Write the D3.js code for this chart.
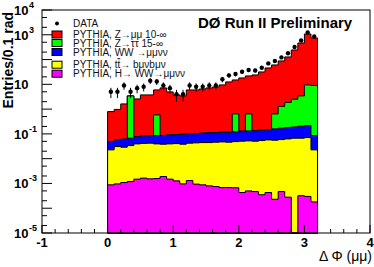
<!DOCTYPE html>
<html>
<head>
<meta charset="utf-8">
<script src="https://cdn.jsdelivr.net/npm/d3@7"></script>
<style>
  body { margin: 0; background: #fff; }
  svg { display: block; }
  text { font-family: "Liberation Sans", Arial, sans-serif; }
</style>
</head>
<body>
<div id="chart"></div>
<script>
// bin lower edges, 0.1 rad wide
const binLow = d3.range(32).map((i) => i / 10);

// stacked MC samples (entries / 0.1 rad), bottom to top
const higgs = [8.8e-4, 9.6e-4, 1.09e-3, 1.19e-3, 1.49e-3, 1.64e-3, 1.53e-3, 1.58e-3, 1.9e-3, 1.49e-3, 1.27e-3, 9.6e-4, 1.31e-3, 9.4e-4, 8.8e-4, 8.0e-4, 7.5e-4, 6.8e-4, 6.8e-4, 6.7e-4, 4.3e-4, 5.0e-4, 4.7e-4, 3.5e-4, 4.3e-4, 2.3e-4, 4.7e-4, 2.8e-4, 0, 3.2e-4, 3.0e-4, 1.8e-4];
const ttbar = [0.0218, 0.0298, 0.028, 0.0326, 0.038, 0.0398, 0.0407, 0.0379, 0.0365, 0.038, 0.0393, 0.0374, 0.0409, 0.0425, 0.0437, 0.0438, 0.0455, 0.0469, 0.0456, 0.0482, 0.0504, 0.0517, 0.0503, 0.0534, 0.0569, 0.0555, 0.0584, 0.0626, 0.0671, 0.0668, 0.0706, 0.0225];
const ww = [0.0263, 0.0265, 0.032, 0.0333, 0.0383, 0.0416, 0.0408, 0.0458, 0.0469, 0.0517, 0.0531, 0.0589, 0.0578, 0.0594, 0.0621, 0.0651, 0.0665, 0.0696, 0.0709, 0.0716, 0.0777, 0.0799, 0.085, 0.0873, 0.0877, 0.1033, 0.1111, 0.1166, 0.1243, 0.1369, 0.1451, 0.0627];
const ztautau = [0, 0, 0, 3.34, 0, 0, 0, 0.5, 0, 0, 0, 0, 0, 0, 0, 0, 0, 0, 0, 0.52, 0, 0.51, 0, 0, 0, 0.48, 1.12, 1.68, 2.32, 3.21, 9.24, 8.95];
const zmumu = [0.744, 0.915, 1.56, 0, 2.5, 3.66, 3.66, 5.36, 7.08, 4.85, 3.65, 3.31, 5.84, 5.84, 6.42, 7.05, 7.75, 9.34, 12.4, 14.4, 18.0, 21.2, 23.8, 31.5, 45.7, 59.9, 86.6, 125.5, 241, 463, 1067, 734];

// observed events
const dataCounts = [5, 5, 9, 5, 7, 8, 14, 13, 9, 7, 4, 4, 9, 8, 8, 9, 9, 16, 23, 26, 32, 38, 36, 47, 70, 88, 122, 180, 322, 589, 1240, 853];

const xTicks = [-1, 0, 1, 2, 3, 4];
const yLabelExp = [4, 3, 1, -1, -3, -5];

const keys = ['higgs', 'ttbar', 'ww', 'ztautau', 'zmumu'];
const colors = {
  higgs: '#ff00ff',
  ttbar: '#ffff00',
  ww: '#0000ff',
  ztautau: '#00ff00',
  zmumu: '#ff0000'
};

const width = 374;
const height = 267;
const margin = { top: 10, right: 4, bottom: 34, left: 42 };

const x = d3.scaleLinear().domain([-1, 4]).range([margin.left, width - margin.right]);
const y = d3.scaleLog().domain([1e-5, 1e4]).range([height - margin.bottom, margin.top]).clamp(true);

const svg = d3.select('#chart')
  .append('svg')
  .attr('width', width)
  .attr('height', height);

const table = binLow.map((b, i) => ({
  b,
  higgs: higgs[i],
  ttbar: ttbar[i],
  ww: ww[i],
  ztautau: ztautau[i],
  zmumu: zmumu[i]
}));
const layers = d3.stack().keys(keys)(table);

const area = d3.area()
  .curve(d3.curveStepAfter)
  .x((d) => x(d.x))
  .y0(y(1e-5))
  .y1((d) => y(Math.max(d.v, 1e-6)));

// draw cumulative histograms from the top one down, ROOT style
layers.slice().reverse().forEach((layer) => {
  const pts = layer.map((d) => ({ x: d.data.b, v: d[1] }));
  pts.push({ x: 3.2, v: layer[layer.length - 1][1] });
  svg.append('path')
    .datum(pts)
    .attr('fill', colors[layer.key])
    .attr('stroke', '#000')
    .attr('stroke-width', 1)
    .attr('d', area);
});

// frame
svg.append('rect')
  .attr('x', margin.left)
  .attr('y', margin.top)
  .attr('width', width - margin.left - margin.right)
  .attr('height', height - margin.top - margin.bottom)
  .attr('fill', 'none')
  .attr('stroke', '#000');

// x ticks
const y0 = y(1e-5);
const xMinor = d3.range(-1, 4.01, 0.2);
svg.append('g')
  .selectAll('line')
  .data(xMinor)
  .join('line')
  .attr('x1', (d) => x(d))
  .attr('x2', (d) => x(d))
  .attr('y1', y0)
  .attr('y2', (d) => (Math.abs(d - Math.round(d)) < 1e-6 ? y0 - 8 : y0 - 4))
  .attr('stroke', '#000');

svg.append('g')
  .selectAll('text')
  .data(xTicks)
  .join('text')
  .attr('x', (d) => x(d))
  .attr('y', 247)
  .attr('text-anchor', 'middle')
  .attr('font-size', 13)
  .attr('font-weight', 'bold')
  .text((d) => d);

// y ticks: decades plus 2x and 5x
const yTicks = [];
for (let e = -5; e <= 4; e++) {
  yTicks.push({ v: Math.pow(10, e), major: true });
  if (e < 4) {
    yTicks.push({ v: 2 * Math.pow(10, e), major: false });
    yTicks.push({ v: 5 * Math.pow(10, e), major: false });
  }
}
svg.append('g')
  .selectAll('line')
  .data(yTicks)
  .join('line')
  .attr('x1', margin.left)
  .attr('x2', (d) => margin.left + (d.major ? 10 : 5))
  .attr('y1', (d) => y(d.v))
  .attr('y2', (d) => y(d.v))
  .attr('stroke', '#000');

const yl = svg.append('g')
  .selectAll('text')
  .data(yLabelExp)
  .join('text')
  .attr('y', (d) => y(Math.pow(10, d)) + 5)
  .attr('font-size', 13)
  .attr('font-weight', 'bold');
yl.append('tspan')
  .attr('x', 28.5)
  .attr('text-anchor', 'end')
  .text('10');
yl.filter((d) => d !== 1)
  .append('tspan')
  .attr('x', 29)
  .attr('dy', -7)
  .attr('font-size', 9)
  .text((d) => d);

// axis titles
svg.append('text')
  .attr('transform', 'translate(13,12) rotate(-90)')
  .attr('text-anchor', 'end')
  .attr('font-size', 14)
  .attr('font-weight', 'bold')
  .text('Entries/0.1 rad');

svg.append('text')
  .attr('x', 372)
  .attr('y', 261)
  .attr('text-anchor', 'end')
  .attr('font-size', 14)
  .text('\u0394 \u03a6 (\u03bc\u03bc)');

svg.append('text')
  .attr('x', 198)
  .attr('y', 28)
  .attr('font-size', 15)
  .attr('font-weight', 'bold')
  .text('D\u00d8 Run II Preliminary');

// data points with sqrt(N) errors
const centers = binLow.map((b, i) => ({ x: b + 0.05, n: dataCounts[i] }));
const pts = svg.append('g');
pts.selectAll('line')
  .data(centers)
  .join('line')
  .attr('x1', (d) => x(d.x))
  .attr('x2', (d) => x(d.x))
  .attr('y1', (d) => y(d.n + Math.sqrt(d.n)))
  .attr('y2', (d) => y(d.n - Math.sqrt(d.n)))
  .attr('stroke', '#000');
pts.selectAll('circle')
  .data(centers)
  .join('circle')
  .attr('cx', (d) => x(d.x))
  .attr('cy', (d) => y(d.n))
  .attr('r', 2.2)
  .attr('fill', '#000');

// legend
const legendRows = [
  { key: 'data', y: 23.5 },
  { key: 'zmumu', y: 34.5 },
  { key: 'ztautau', y: 43 },
  { key: 'ww', y: 52 },
  { key: 'ttbar', y: 64.7 },
  { key: 'higgs', y: 73.7 }
];
const legend = svg.append('g').attr('font-size', 10).attr('fill', '#111');
legendRows.forEach((r) => {
  if (r.key === 'data') {
    legend.append('circle').attr('cx', 57).attr('cy', r.y).attr('r', 2).attr('fill', '#000');
  } else {
    legend.append('rect')
      .attr('x', 52).attr('y', r.y - 3.5)
      .attr('width', 10).attr('height', 7)
      .attr('fill', colors[r.key])
      .attr('stroke', '#000');
  }
});
const lt = (yy) => legend.append('text').attr('x', 73).attr('y', yy + 3.5);
lt(23.5).text('DATA');
lt(34.5).text('PYTHIA, Z\u2192\u03bc\u03bc 10-\u221e');
lt(43).text('PYTHIA, Z\u2192\u03c4\u03c4 15-\u221e');
lt(52).text('PYTHIA, WW \u2192\u03bc\u03bc\u03bd\u03bd');
const tt = lt(64.7);
tt.append('tspan').text('PYTHIA, t');
tt.append('tspan').attr('text-decoration', 'overline').text('t');
tt.append('tspan').text('\u2192 b\u03bc\u03bdb\u03bc\u03bd');
lt(73.7).text('PYTHIA, H\u2192 WW\u2192\u03bc\u03bc\u03bd\u03bd');
</script>
</body>
</html>
